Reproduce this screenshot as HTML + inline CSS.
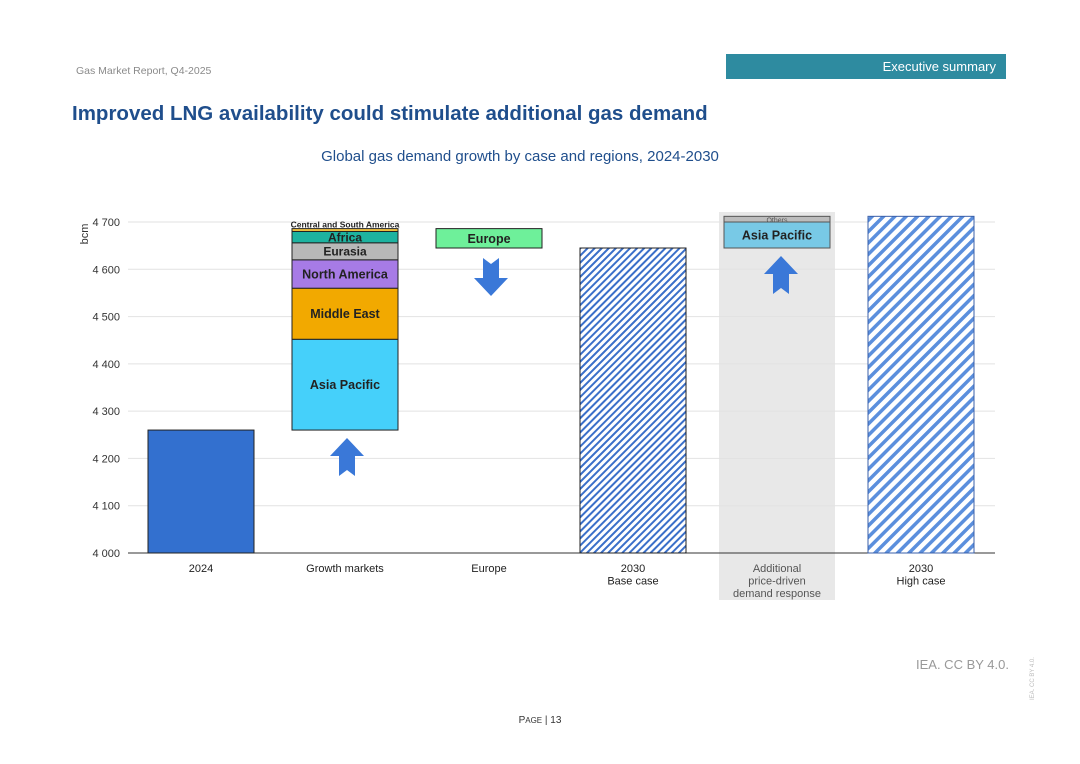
<!DOCTYPE html>
<html><head><meta charset="utf-8"><style>
body{margin:0;width:1080px;height:764px;background:#fff;font-family:"Liberation Sans",sans-serif;position:relative;overflow:hidden}
.a{position:absolute}
</style></head><body>
<div class="a" style="left:76px;top:65px;font-size:10.5px;color:#8a8a8a">Gas Market Report, Q4-2025</div>
<div class="a" style="left:726px;top:54px;width:280px;height:25px;background:#2e8ba0;color:#fff;font-size:13px;text-align:right;line-height:25px;box-sizing:border-box;padding-right:10px">Executive summary</div>
<div class="a" style="left:72px;top:102px;font-size:20.5px;font-weight:bold;color:#1f4e8c">Improved LNG availability could stimulate additional gas demand</div>
<div class="a" style="left:0;width:1040px;top:148px;text-align:center;font-size:15px;color:#1f4e8c">Global gas demand growth by case and regions, 2024-2030</div>
<svg class="a" style="left:0;top:0" width="1080" height="764">
<defs>
<pattern id="h1" width="5" height="5" patternUnits="userSpaceOnUse" patternTransform="rotate(45)"><rect width="5" height="5" fill="#fff"/><rect width="2" height="5" fill="#3a6fc9"/></pattern>
<pattern id="h2" width="8" height="8" patternUnits="userSpaceOnUse" patternTransform="rotate(45)"><rect width="8" height="8" fill="#fff"/><rect width="3.5" height="8" fill="#5b8fdd"/></pattern>
</defs>
<g id="g"></g>
</svg>
<div class="a" style="left:916px;top:657px;font-size:13px;color:#999">IEA. CC BY 4.0.</div>
<div class="a" style="left:0;width:1080px;top:715px;text-align:center;font-size:10px;color:#333">P<span style="font-size:8px">AGE</span> | 13</div>
<script>
const yTicks=[4000,4100,4200,4300,4400,4500,4600,4700];
const categories=["2024","Growth markets","Europe","2030|Base case","Additional|price-driven|demand response","2030|High case"];
const base2024=4260;
const growthNames=["Asia Pacific","Middle East","North America","Eurasia","Africa","Central and South America"];
const growthValues=[192,108,60,36,24,6];
const europeValue=-41;
const baseCase=4645;
const addNames=["Asia Pacific","Others"];
const addValues=[55,12];
const highCase=4712;
const NS="http://www.w3.org/2000/svg",g=document.getElementById('g');
const y=v=>553-(v-4000)*331/700, x=i=>201+i*144, BW=106;
function el(t,a,txt){const e=document.createElementNS(NS,t);for(const k in a)e.setAttribute(k,a[k]);if(txt!=null)e.textContent=txt;g.appendChild(e);return e;}
let sh=el('rect',{x:x(4)-58,y:212,width:116,height:388,fill:'#e8e8e8'});

yTicks.forEach(v=>{let l=el('line',{x1:128,x2:995,y1:y(v),y2:y(v),stroke:v==4000?'#333':'#e2e2e2'});

let t=el('text',{x:120,y:y(v)+4,'text-anchor':'end','font-size':11,fill:'#333'},String(v).replace(/(\d)(\d{3})$/,'$1 $2'));
});
let yt=el('text',{x:88,y:234,transform:'rotate(-90 88 234)','text-anchor':'middle','font-size':11,fill:'#333'},'bcm');

categories.forEach((c,i)=>c.split('|').forEach((s,j)=>{let t=el('text',{x:x(i),y:572+j*12.5,'text-anchor':'middle','font-size':11,fill:i==4?'#555':'#222'},s);
}));
function bar(i,v0,v1,fill,name,label,fs,stroke){const b=el('rect',{x:x(i)-BW/2,y:y(Math.max(v0,v1)),width:BW,height:Math.abs(y(v0)-y(v1)),fill,stroke:stroke||'#222','stroke-width':1});

if(label){const t=el('text',{x:x(i),y:(y(v0)+y(v1))/2+fs*0.36,'text-anchor':'middle','font-size':fs,'font-weight':'bold',fill:'#222'},label);
}return b;}
bar(0,4000,base2024,'#3370cf','bar-2024');
const gc=['#45d0fa','#f2a900','#a77be6','#b8b8b8','#1db3a0','#f5c542'];
let c=base2024;growthValues.forEach((v,k)=>{const lab=k<5?growthNames[k]:null;bar(1,c,c+v,gc[k],'bar-growth-'+growthNames[k].toLowerCase().replace(/ /g,'-'),lab,k<3?12.5:12);c+=v;});
let cs=el('text',{x:x(1),y:y(c)-1,'text-anchor':'middle','font-size':8.5,'font-weight':'bold',fill:'#222'},growthNames[5]);

bar(2,c,c+europeValue,'#6ef09a','bar-europe','Europe',12.5);
bar(3,4000,baseCase,'url(#h1)','bar-2030-base');
let a=baseCase;bar(4,a,a+addValues[0],'#78c9e6','bar-additional-asia-pacific','Asia Pacific',12.5,'#555');a+=addValues[0];
bar(4,a,a+addValues[1],'#bdbdbd','bar-additional-others',null,0,'#555');
let ot=el('text',{x:x(4),y:y(a+addValues[1])+6,'text-anchor':'middle','font-size':7,fill:'#555'},'Others');

bar(5,4000,highCase,'url(#h2)','bar-2030-high',null,0,'#3a5fa8');
function arrow(cx,cy,up,name){const s=up?1:-1;
const pts=[[cx,cy-20*s],[cx+17,cy-2*s],[cx+8,cy-2*s],[cx+8,cy+18*s],[cx,cy+12*s],[cx-8,cy+18*s],[cx-8,cy-2*s],[cx-17,cy-2*s]];
const e=el('polygon',{points:pts.map(q=>q.join(',')).join(' '),fill:'#3a78d8'});
}
arrow(347,458,true,'arrow-up-growth');arrow(491,276,false,'arrow-down-europe');arrow(781,276,true,'arrow-up-additional');
</script>
<div class="a" style="left:1030px;top:700px;transform:rotate(-90deg);transform-origin:left top;font-size:6px;color:#bbb">IEA. CC BY 4.0.</div>
</body></html>
